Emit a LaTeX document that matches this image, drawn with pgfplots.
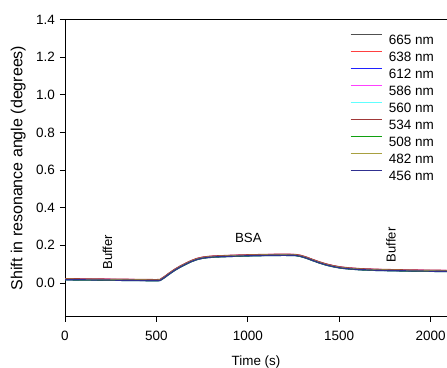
\documentclass[border=0pt]{standalone}
\usepackage{pgfplots}
\pgfplotsset{compat=1.18}
\usepackage{pgfplotstable}
\usepackage{fontspec}
\setmainfont{Liberation Sans}
\definecolor{cA}{HTML}{505050}
\definecolor{cB}{HTML}{FF4040}
\definecolor{cC}{HTML}{2020FF}
\definecolor{cD}{HTML}{FF40FF}
\definecolor{cE}{HTML}{60FFFF}
\definecolor{cF}{HTML}{A03838}
\definecolor{cG}{HTML}{10A010}
\definecolor{cH}{HTML}{A8A040}
\definecolor{cI}{HTML}{303090}
\pgfplotstableread{
x a b c d e f g h i
0 0.020 0.021 0.016 0.021 0.019 0.022 0.016 0.019 0.017
100 0.019 0.020 0.015 0.020 0.018 0.021 0.015 0.018 0.016
200 0.018 0.019 0.014 0.019 0.017 0.020 0.014 0.017 0.015
300 0.017 0.018 0.013 0.018 0.016 0.019 0.013 0.016 0.014
400 0.016 0.017 0.012 0.017 0.015 0.018 0.012 0.015 0.013
500 0.015 0.016 0.011 0.016 0.014 0.017 0.011 0.014 0.012
520 0.016 0.017 0.012 0.017 0.015 0.018 0.012 0.015 0.013
545 0.032 0.033 0.028 0.033 0.031 0.034 0.028 0.031 0.029
570 0.050 0.051 0.046 0.051 0.049 0.052 0.046 0.049 0.047
600 0.070 0.071 0.066 0.071 0.069 0.072 0.066 0.069 0.067
630 0.087 0.088 0.083 0.088 0.086 0.089 0.083 0.086 0.084
660 0.102 0.103 0.098 0.103 0.101 0.104 0.098 0.101 0.099
690 0.116 0.117 0.112 0.117 0.115 0.118 0.112 0.115 0.113
720 0.127 0.128 0.123 0.128 0.126 0.129 0.123 0.126 0.124
750 0.134 0.135 0.130 0.135 0.133 0.136 0.130 0.133 0.131
780 0.138 0.139 0.134 0.139 0.137 0.140 0.134 0.137 0.135
820 0.141 0.142 0.137 0.142 0.140 0.143 0.137 0.140 0.138
900 0.144 0.145 0.140 0.145 0.143 0.146 0.140 0.143 0.141
1000 0.147 0.148 0.143 0.148 0.146 0.149 0.143 0.146 0.144
1100 0.149 0.150 0.145 0.150 0.148 0.151 0.145 0.148 0.146
1200 0.150 0.151 0.146 0.151 0.149 0.152 0.146 0.149 0.147
1260 0.149 0.150 0.145 0.150 0.148 0.151 0.145 0.148 0.146
1290 0.144 0.145 0.140 0.145 0.143 0.146 0.140 0.143 0.141
1320 0.135 0.136 0.131 0.136 0.134 0.137 0.131 0.134 0.132
1350 0.124 0.125 0.120 0.125 0.123 0.126 0.120 0.123 0.121
1390 0.110 0.111 0.106 0.111 0.109 0.112 0.106 0.109 0.107
1430 0.098 0.099 0.094 0.099 0.097 0.100 0.094 0.097 0.095
1470 0.089 0.090 0.085 0.090 0.088 0.091 0.085 0.088 0.086
1510 0.082 0.083 0.078 0.083 0.081 0.084 0.078 0.081 0.079
1560 0.077 0.078 0.073 0.078 0.076 0.079 0.073 0.076 0.074
1620 0.073 0.074 0.069 0.074 0.072 0.075 0.069 0.072 0.070
1700 0.070 0.071 0.066 0.071 0.069 0.072 0.066 0.069 0.067
1800 0.068 0.069 0.064 0.069 0.067 0.070 0.064 0.067 0.065
1900 0.066 0.067 0.062 0.067 0.065 0.068 0.062 0.065 0.063
2000 0.065 0.066 0.061 0.066 0.064 0.067 0.061 0.064 0.062
2090 0.064 0.065 0.060 0.065 0.063 0.066 0.060 0.063 0.061
}\data
\begin{document}
\begin{tikzpicture}
\begin{axis}[
  scale only axis,
  width=382bp, height=297bp,
  xmin=0, xmax=2090,
  ymin=-0.179, ymax=1.4,
  axis x line*=box,
  axis y line*=left,
  axis line style={line width=0.6pt, -},
  xtick={0,500,1000,1500,2000},
  ytick={0,0.2,0.4,0.6,0.8,1.0,1.2,1.4},
  xtick pos=bottom,
  ytick pos=left,
  tick align=outside,
  major tick length=5bp,
  tick style={line width=0.6pt, black},
  /pgf/number format/assume math mode=true,
  yticklabel style={/pgf/number format/.cd, fixed, fixed zerofill, precision=1, /tikz/.cd, xshift=-1.5bp},
  xticklabel style={/pgf/number format/.cd, 1000 sep={}, /tikz/.cd, yshift=-6bp},
  ticklabel style={font=\fontsize{13.5bp}{15bp}\selectfont},
  xlabel={Time (s)},
  ylabel={Shift in resonance angle (degrees)},
  xlabel style={font=\fontsize{13.4bp}{15bp}\selectfont, at={(axis description cs:0.5,-0.152)}, anchor=center},
  ylabel style={font=\fontsize{16bp}{18bp}\selectfont, at={(axis description cs:-0.1223,0.5)}, anchor=center},
  legend style={draw=none, fill=none, at={(axis description cs:0.746,0.9507)}, anchor=north west,
    inner sep=0pt, outer sep=0pt,
    font=\fontsize{13.5bp}{15bp}\selectfont, row sep=6.65bp,
    nodes={inner sep=0pt, text height=9.7bp, text depth=0bp},
    /tikz/every odd column/.style={column sep=6.5bp}},
  legend image code/.code={\draw[#1, line width=1.3pt] (0bp,4.85bp) -- (31bp,4.85bp);},
  legend cell align=left,
  every axis plot/.append style={line width=1.2pt},
  clip=true,
]
\addplot[cA] table[x=x,y=a]{\data};
\addlegendentry{665 nm}
\addplot[cB] table[x=x,y=b]{\data};
\addlegendentry{638 nm}
\addplot[cC] table[x=x,y=c]{\data};
\addlegendentry{612 nm}
\addplot[cD] table[x=x,y=d]{\data};
\addlegendentry{586 nm}
\addplot[cE] table[x=x,y=e]{\data};
\addlegendentry{560 nm}
\addplot[cF] table[x=x,y=f]{\data};
\addlegendentry{534 nm}
\addplot[cG] table[x=x,y=g]{\data};
\addlegendentry{508 nm}
\addplot[cH] table[x=x,y=h]{\data};
\addlegendentry{482 nm}
\addplot[cI] table[x=x,y=i]{\data};
\addlegendentry{456 nm}
\node[rotate=90, font=\fontsize{13bp}{15bp}\selectfont] at (axis cs:232,0.162) {Buffer};
\node[font=\fontsize{13.3bp}{15bp}\selectfont] at (axis cs:1003,0.239) {BSA};
\node[rotate=90, font=\fontsize{13bp}{15bp}\selectfont] at (axis cs:1784,0.202) {Buffer};
\end{axis}
\pgfresetboundingbox
\path[use as bounding box] ([xshift=-65bp,yshift=-51bp]current axis.south west) rectangle ([yshift=19.5bp]current axis.north east);
\end{tikzpicture}
\end{document}
